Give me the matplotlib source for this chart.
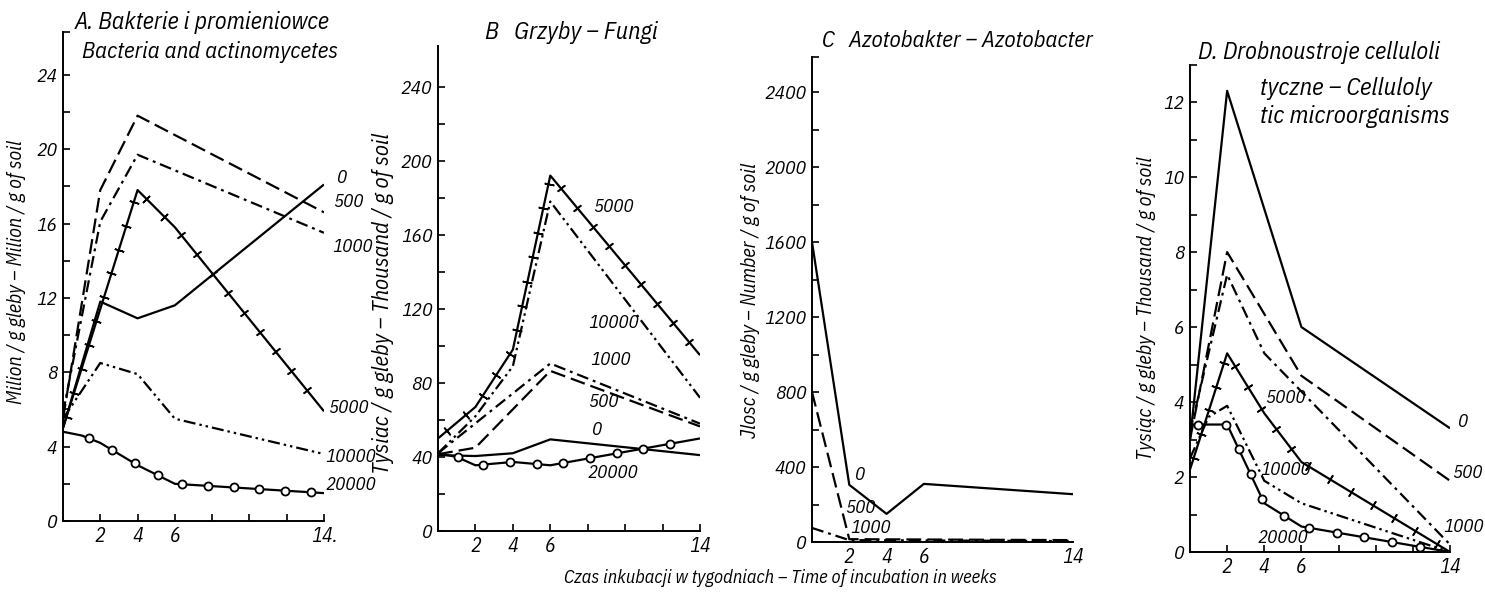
import numpy as np
import matplotlib
matplotlib.use("Agg")
import matplotlib.pyplot as plt
from matplotlib.ticker import FixedLocator, FixedFormatter, NullFormatter

# ---------------- data ----------------
levels = ["0", "500", "1000", "5000", "10000", "20000"]

# A. Bacteria and actinomycetes - million / g of soil
A_w_0 = [0, 2, 4, 6, 14];        A_0 = [5.0, 11.8, 10.9, 11.6, 18.1]
A_w_500 = [0, 2, 4, 14];         A_500 = [5.5, 17.8, 21.8, 16.6]
A_w_1000 = [0, 2, 4, 14];        A_1000 = [5.8, 16.1, 19.7, 15.5]
A_w_5000 = [0, 4, 6, 14];        A_5000 = [5.0, 17.8, 15.8, 5.9]
A_w_10000 = [0, 2, 4, 6, 14];    A_10000 = [5.5, 8.5, 7.9, 5.5, 3.6]
A_w_20000 = [0, 1, 2, 4, 6, 14]; A_20000 = [4.8, 4.6, 4.2, 3.0, 2.0, 1.5]

# B. Fungi - thousand / g of soil
B_w_0 = [0, 2, 4, 6, 14];        B_0 = [41, 40.5, 42, 49.5, 41]
B_w_500 = [0, 2, 6, 14];         B_500 = [41.5, 45, 86.5, 56.5]
B_w_1000 = [0, 6, 14];           B_1000 = [42, 90.5, 58]
B_w_5000 = [0, 2, 4, 6, 14];     B_5000 = [50, 67, 98, 192, 95]
B_w_10000 = [0, 2, 4, 6, 14];    B_10000 = [42, 62, 89, 178, 72]
B_w_20000 = [0, 1, 2, 4, 6, 14]; B_20000 = [42, 40, 35.5, 37.3, 35.5, 50]

# C. Azotobacter - number / g of soil
C_w_0 = [0, 2, 4, 6, 14];        C_0 = [1600, 305, 150, 310, 255]
C_w_500 = [0, 2, 14];            C_500 = [800, 15, 10]
C_w_1000 = [0, 2, 14];           C_1000 = [75, 10, 5]

# D. Cellulolytic microorganisms - thousand / g of soil
D_w_0 = [0, 2, 6, 14];           D_0 = [3.0, 12.3, 6.0, 3.3]
D_w_500 = [0, 2, 6, 14];         D_500 = [3.0, 8.0, 4.7, 1.9]
D_w_1000 = [0, 2, 4, 14];        D_1000 = [3.2, 7.4, 5.3, 0.2]
D_w_5000 = [0, 2, 4, 6, 14];     D_5000 = [2.2, 5.3, 3.7, 2.4, 0.0]
D_w_10000 = [0, 1, 2, 4, 6, 14]; D_10000 = [2.5, 3.6, 3.9, 1.9, 1.3, 0.0]
D_w_20000 = [0, 2, 4, 6, 14];    D_20000 = [3.4, 3.4, 1.3, 0.68, 0.0]

x_ticks = [2, 4, 6, 8, 10, 12, 14]
x_tick_labels_A = ["2", "4", "6", "", "", "", "14."]
x_tick_labels = ["2", "4", "6", "", "", "", "14"]

titles = {
    "A": ["A. Bakterie i promieniowce", "Bacteria and actinomycetes"],
    "B": ["B   Grzyby – Fungi"],
    "C": ["C   Azotobakter – Azotobacter"],
    "D": ["D. Drobnoustroje celluloli", "tyczne – Celluloly", "tic microorganisms"],
}
ylabels = {
    "A": "Milion / g gleby – Milion / g of soil",
    "B": "Tysiac / g gleby – Thousand / g of soil",
    "C": "Jlosc / g gleby – Number / g of soil",
    "D": "Tysiąc / g gleby – Thousand / g of soil",
}
xlabel = "Czas inkubacji w tygodniach – Time of incubation in weeks"

# ---------------- style ----------------
W, H = 1485, 597
plt.rcParams["font.family"] = ["IBM Plex Sans Condensed", "Liberation Sans Narrow",
                               "DejaVu Sans"]
plt.rcParams["font.style"] = "italic"
plt.rcParams["axes.linewidth"] = 1.4

fig = plt.figure(figsize=(W / 100, H / 100), dpi=100)
fig.patch.set_facecolor("white")

LW = 1.6
styles = {
    "0": dict(ls="-"),
    "500": dict(dashes=(6.7, 2.7)),
    "1000": dict(dashes=(5.4, 2.2, 1.3, 2.2)),
    "5000": dict(ls="-"),
    "10000": dict(dashes=(5.4, 1.8, 1.1, 1.8, 1.1, 1.8)),
    "20000": dict(ls="-"),
}


def fpx(x, y):
    return x / W, 1 - y / H


def make_ax(x0, x14, y0, ytop, ymax):
    l, b = fpx(x0, y0)
    ax = fig.add_axes([l, b, (x14 - x0) / W, (y0 - ytop) / H])
    ax.set_xlim(0, 14)
    ax.set_ylim(0, ymax)
    ax.spines["top"].set_visible(False)
    ax.spines["right"].set_visible(False)
    ax.set_facecolor("none")
    return ax


def along(ax, xs, ys, spacing, start):
    pts = ax.transData.transform(np.column_stack([xs, ys]))
    seg = np.diff(pts, axis=0)
    seglen = np.hypot(seg[:, 0], seg[:, 1])
    cum = np.concatenate([[0], np.cumsum(seglen)])
    d = np.arange(start, cum[-1] - 4, spacing)
    idx = np.clip(np.searchsorted(cum, d, side="right") - 1, 0, len(seg) - 1)
    t = (d - cum[idx]) / seglen[idx]
    p = pts[idx] + seg[idx] * t[:, None]
    ang = np.degrees(np.arctan2(seg[idx, 1], seg[idx, 0]))
    return ax.transData.inverted().transform(p), ang


def draw(ax, key, xs, ys, circ_start=20, circ_sp=27, cross_start=12, cross_sp=25):
    ax.plot(xs, ys, color="k", lw=LW, solid_capstyle="butt", **styles[key])
    if key == "20000":
        p, _ = along(ax, xs, ys, circ_sp, circ_start)
        ax.plot(p[:, 0], p[:, 1], "o", ms=5.8, mfc="white", mec="k", mew=1.3,
                zorder=4, clip_on=False)
    if key == "5000":
        p, ang = along(ax, xs, ys, cross_sp, cross_start)
        for (px, py), a in zip(p, ang):
            ax.plot(px, py, marker=(2, 2, a), ms=7, mew=1.2, color="k",
                    clip_on=False)


def ticks(ax, major, minor, labels, xlabels, xtick_len=5):
    ax.yaxis.set_major_locator(FixedLocator(major))
    ax.yaxis.set_major_formatter(FixedFormatter(labels))
    ax.yaxis.set_minor_locator(FixedLocator(minor))
    ax.yaxis.set_minor_formatter(NullFormatter())
    ax.xaxis.set_major_locator(FixedLocator(x_ticks))
    ax.xaxis.set_major_formatter(FixedFormatter(xlabels))
    ax.tick_params(axis="y", which="both", direction="in", length=5, width=1.2,
                   pad=4, labelsize=14)
    ax.tick_params(axis="x", which="both", direction="in", length=xtick_len,
                   width=1.2, pad=4, labelsize=14.5)


def ftext(x, y, s, size=13, ha="left", va="center", rot=0):
    fx, fy = fpx(x, y)
    fig.text(fx, fy, s, fontsize=size, ha=ha, va=va, rotation=rot,
             fontstyle="italic")


# ---------------- panel A ----------------
axA = make_ax(63, 324, 521, 32, 26.3)
ticks(axA, [0, 4, 8, 12, 16, 20, 24], [2, 6, 10, 14, 18, 22, 26.3],
      ["0", "4", "8", "12", "16", "20", "24"], x_tick_labels_A)
for k, xs, ys in [("0", A_w_0, A_0), ("500", A_w_500, A_500),
                  ("1000", A_w_1000, A_1000), ("5000", A_w_5000, A_5000),
                  ("10000", A_w_10000, A_10000), ("20000", A_w_20000, A_20000)]:
    draw(axA, k, xs, ys, circ_start=27, circ_sp=26)

# ---------------- panel B ----------------
axB = make_ax(438, 700, 531, 46, 262)
ticks(axB, [0, 40, 80, 120, 160, 200, 240], [20, 60, 100, 140, 180, 220],
      ["0", "40", "80", "120", "160", "200", "240"], x_tick_labels)
for k, xs, ys in [("0", B_w_0, B_0), ("500", B_w_500, B_500),
                  ("1000", B_w_1000, B_1000), ("5000", B_w_5000, B_5000),
                  ("10000", B_w_10000, B_10000), ("20000", B_w_20000, B_20000)]:
    draw(axB, k, xs, ys, circ_start=20, circ_sp=27)

# ---------------- panel C ----------------
axC = make_ax(812, 1073, 542, 57, 2587)
ticks(axC, [0, 400, 800, 1200, 1600, 2000, 2400],
      [200, 600, 1000, 1400, 1800, 2200, 2587],
      ["0", "400", "800", "1200", "1600", "2000", "2400"], x_tick_labels,
      xtick_len=0)
for k, xs, ys in [("0", C_w_0, C_0), ("500", C_w_500, C_500),
                  ("1000", C_w_1000, C_1000)]:
    draw(axC, k, xs, ys)

# ---------------- panel D ----------------
axD = make_ax(1190, 1450, 552, 65, 12.99)
ticks(axD, [0, 2, 4, 6, 8, 10, 12], [1, 3, 5, 7, 9, 11, 12.99],
      ["0", "2", "4", "6", "8", "10", "12"], x_tick_labels)
for k, xs, ys in [("0", D_w_0, D_0), ("500", D_w_500, D_500),
                  ("1000", D_w_1000, D_1000), ("5000", D_w_5000, D_5000),
                  ("10000", D_w_10000, D_10000), ("20000", D_w_20000, D_20000)]:
    draw(axD, k, xs, ys, circ_start=8, circ_sp=28)

# ---------------- curve labels ----------------
lab_pos = {
    "A": [("0", 337, 178), ("500", 333, 202), ("1000", 332, 247),
          ("5000", 328, 408), ("10000", 325, 457), ("20000", 325, 485)],
    "B": [("5000", 593, 207), ("10000", 588, 323), ("1000", 590, 360),
          ("500", 588, 402), ("0", 592, 430), ("20000", 588, 473)],
    "C": [("0", 855, 475), ("500", 845, 508), ("1000", 850, 528)],
    "D": [("0", 1458, 422), ("500", 1452, 473), ("1000", 1443, 527),
          ("5000", 1265, 398), ("10000", 1260, 470), ("20000", 1257, 538)],
}
for pan in lab_pos.values():
    for s, x, y in pan:
        ftext(x, y, s, size=13.5)

# ---------------- titles and axis labels ----------------
ftext(75, 22, titles["A"][0], size=17.2)
ftext(82, 52, titles["A"][1], size=16.5)
ftext(485, 33, titles["B"][0], size=17.5)
ftext(822, 41, titles["C"][0], size=16.6)
ftext(1198, 53, titles["D"][0], size=17.3)
ftext(1260, 88, titles["D"][1], size=17.8)
ftext(1260, 117, titles["D"][2], size=17.8)

ftext(17, 272, ylabels["A"], size=14.2, ha="center", rot=90)
ftext(383, 303, ylabels["B"], size=16.4, ha="center", rot=90)
ftext(750, 300, ylabels["C"], size=14.5, ha="center", rot=90)
ftext(1147, 308, ylabels["D"], size=14.6, ha="center", rot=90)
ftext(780, 578, xlabel, size=13.3, ha="center")

fig.savefig("out.png", dpi=100, facecolor="white")
